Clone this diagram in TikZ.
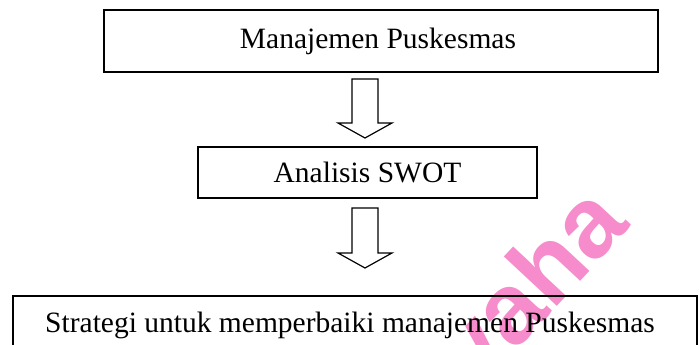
\documentclass[tikz,border=0pt]{standalone}
\usepackage{fontspec}
\setmainfont{Liberation Serif}
\newfontfamily\wmfont{Liberation Sans}
\tikzset{
  boxline/.style={draw=black, line width=1.5pt},
  label/.style={inner sep=0pt, font=\fontsize{29.5}{34}\selectfont},
  blockarrow/.style={draw=black, line width=1.2pt, fill=white},
  wm/.style={text=magenta!45, font=\wmfont\bfseries\fontsize{100}{100}\selectfont, rotate=47, inner sep=0pt}
}
\begin{document}
\begin{tikzpicture}[x=1pt,y=1pt]
\useasboundingbox (0,0) rectangle (699,345);
% watermark (partly outside the page)
\begin{scope}
\clip (0,0) rectangle (699,345);
\node[wm] (wmark) at (528,60) {vaha};
\end{scope}
% top box
\draw[boxline] (104,273) rectangle (658,335);
\node[label] (top) at (378,304) {Manajemen Puskesmas};
% middle box
\draw[boxline] (198,147) rectangle (537,198);
\node[label] (mid) at (367.5,172.5) {Analisis SWOT};
% bottom box (cut off at the lower edge)
\draw[boxline] (13,-5) -- (13,49) -- (697,49) -- (697,-5);
\node[label] (bot) at (350,20) {Strategi untuk memperbaiki manajemen Puskesmas};
% block arrows
\draw[blockarrow] (352,266) -- (378,266) -- (378,222) -- (392,222) -- (365,207) -- (338,222) -- (352,222) -- cycle;
\draw[blockarrow] (352,137) -- (378,137) -- (378,92) -- (392,92) -- (365,77) -- (338,92) -- (352,92) -- cycle;
\end{tikzpicture}
\end{document}
